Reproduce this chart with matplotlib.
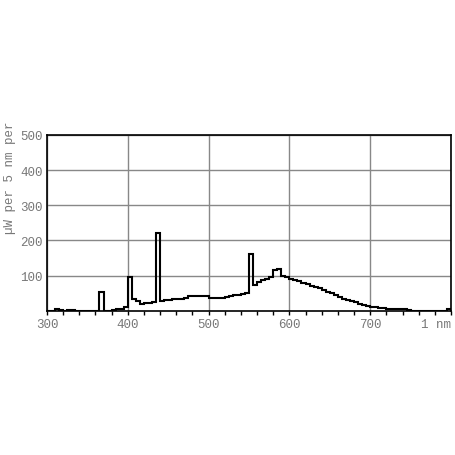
import numpy as np
import matplotlib
matplotlib.use("Agg")
import matplotlib.pyplot as plt
from matplotlib.ticker import MultipleLocator

# spectral power, 5 nm bins starting at 300 nm
bin_start = 300
bin_width = 5
power = [
    1, 1, 6, 2, 1, 3, 3, 1, 1, 1,          # 300-345
    1, 1, 1, 55, 1, 1, 3, 5, 6, 10,        # 350-395
    95, 33, 28, 20, 22, 23, 25, 222, 29, 31,   # 400-445
    32, 33, 34, 35, 37, 42, 43, 43, 43, 43,    # 450-495
    38, 38, 38, 38, 40, 42, 44, 46, 48, 51,    # 500-545
    163, 75, 82, 87, 92, 96, 117, 120, 100, 96,  # 550-595
    92, 88, 84, 80, 76, 72, 68, 64, 60, 55,    # 600-645
    50, 44, 39, 34, 30, 27, 24, 21, 18, 15,    # 650-695
    12, 10, 8, 7, 6, 6, 5, 4, 4, 2,            # 700-745
    1, 1, 1, 1, 1, 1, 1, 1, 1, 6,              # 750-795
]
edges = bin_start + bin_width * np.arange(len(power) + 1)

x_ticks = [300, 400, 500, 600, 700, 800]
x_labels = ["300", "400", "500", "600", "700", "1 nm"]
y_ticks = [100, 200, 300, 400, 500]

mono = "Liberation Mono"
grey = "#777777"

fig = plt.figure(figsize=(4.56, 4.56), dpi=100)
ax = fig.add_axes([0.103, 0.316, 0.886, 0.386])

ax.stairs(power, edges, color="black", linewidth=1.5)

ax.set_xlim(300, 800)
ax.set_ylim(0, 500)
ax.set_xticks(x_ticks)
ax.set_xticklabels(x_labels, fontfamily=mono, fontsize=9, color=grey)
ax.get_xticklabels()[-1].set_horizontalalignment("right")
ax.xaxis.set_minor_locator(MultipleLocator(20))
ax.set_yticks(y_ticks)
ax.set_yticklabels([str(v) for v in y_ticks], fontfamily=mono, fontsize=9, color=grey)

ax.tick_params(axis="x", which="both", direction="out", length=3, width=1, color="black", pad=2)
ax.tick_params(axis="y", length=0, pad=3)
ax.grid(True, color="#888888", linewidth=1)
ax.set_axisbelow(True)
for s in ax.spines.values():
    s.set_color("black")
    s.set_linewidth(1.2)

fig.text(0.022, 1 - 178 / 456, "µW per 5 nm per", rotation=90, ha="center", va="center",
         fontfamily=mono, fontsize=9, color=grey)

fig.savefig("out.png", dpi=100, facecolor="white")
